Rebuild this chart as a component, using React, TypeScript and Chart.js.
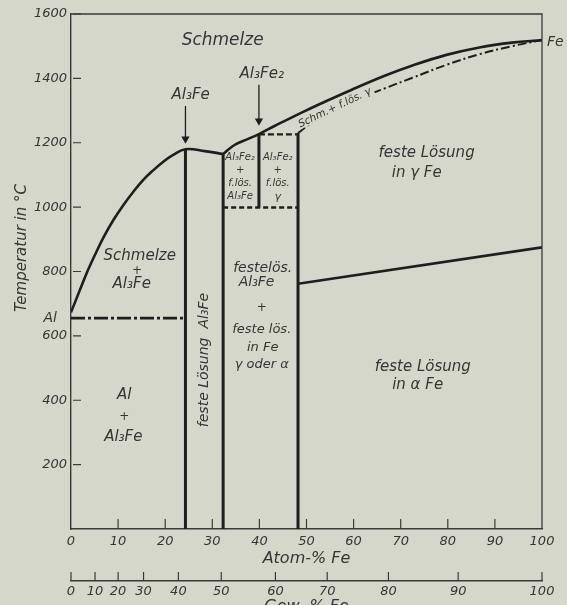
import { useEffect, useRef } from 'react';
import { Chart, registerables } from 'chart.js';

Chart.register(...registerables);

// ---------- data (atom-% Fe, temperature °C) ----------
const liquidusAlAtom = [0, 1.9, 3.3, 5.1, 6.9, 9.0, 11.1, 13.2, 15.3, 17.5, 19.6, 21.7, 24.3, 28.4, 32.3];
const liquidusAlTemp = [673, 743, 794, 852, 906, 960, 1006, 1047, 1084, 1115, 1141, 1162, 1180, 1174, 1165];

const liquidusFeAtom = [32.3, 34.7, 37.6, 39.9, 43.2, 45.4, 48.2, 52.5, 59.5, 66.6, 72.5, 79.7, 86.7, 93.6, 100];
const liquidusFeTemp = [1165, 1193, 1212, 1227, 1252, 1268, 1288, 1318, 1364, 1408, 1440, 1473, 1496, 1511, 1519];

const solidusAtom = [48.2, 51.3, 56.0, 61.7, 66.6, 72.5, 79.7, 86.7, 93.6, 100];
const solidusTemp = [1230, 1264, 1302, 1340, 1369, 1402, 1442, 1475, 1500, 1519];

const eutecticAtom = [0, 24.3];
const eutecticTemp = [655, 655];

const al3FeAtom = [24.3, 24.3];
const al3FeTemp = [0, 1180];

const leftBoundAtom = [32.3, 32.3];
const leftBoundTemp = [0, 1165];

const rightBoundAtom = [48.2, 48.2];
const rightBoundTemp = [0, 1230];

const al3Fe2Atom = [39.9, 39.9];
const al3Fe2Temp = [999, 1227];

const line1000Atom = [32.3, 48.2];
const line1000Temp = [999, 999];

const boxTopAtom = [39.9, 48.2];
const boxTopTemp = [1226, 1226];

const alphaGammaAtom = [48.2, 100];
const alphaGammaTemp = [762, 875];

const arrowAl3FeAtom = [24.3, 24.3];
const arrowAl3FeTemp = [1314, 1212];

const arrowAl3Fe2Atom = [39.9, 39.9];
const arrowAl3Fe2Temp = [1380, 1268];

// ---------- ticks ----------
const tempTicks = [200, 400, 600, 800, 1000, 1200, 1400, 1600];
const atomTicks = [0, 10, 20, 30, 40, 50, 60, 70, 80, 90, 100];
const atomInnerTicks = [10, 20, 30, 40, 50, 60, 70, 80, 90];
const gewLabels = ['0', '10', '20', '30', '40', '50', '60', '70', '80', '90', '100'];
const gewAtAtom = [0, 5.1, 10.0, 15.4, 22.8, 31.9, 43.4, 54.4, 67.4, 82.2, 100];

// ---------- text labels in the diagram ----------
type Note = { a: number; t: number; text: string; size: number; rot?: number; align?: CanvasTextAlign; dx?: number; bg?: boolean };
const notes: Note[] = [
  { a: 32.2, t: 1516, text: 'Schmelze', size: 17 },
  { a: 25.4, t: 1348, text: 'Al₃Fe', size: 15 },
  { a: 40.5, t: 1414, text: 'Al₃Fe₂', size: 15 },
  { a: 56.0, t: 1308, text: 'Schm.+ f.lös. γ', size: 10.5, rot: -25.5, bg: true },
  { a: 35.9, t: 1153, text: 'Al₃Fe₂', size: 10 },
  { a: 35.9, t: 1115, text: '+', size: 10 },
  { a: 35.9, t: 1075, text: 'f.lös.', size: 10 },
  { a: 35.9, t: 1032, text: 'Al₃Fe', size: 10 },
  { a: 43.9, t: 1153, text: 'Al₃Fe₂', size: 10 },
  { a: 43.9, t: 1115, text: '+', size: 10 },
  { a: 43.9, t: 1075, text: 'f.lös.', size: 10 },
  { a: 43.9, t: 1032, text: 'γ', size: 11 },
  { a: 75.5, t: 1168, text: 'feste Lösung', size: 15 },
  { a: 73.4, t: 1106, text: 'in γ Fe', size: 15 },
  { a: 14.6, t: 848, text: 'Schmelze', size: 15 },
  { a: 14.0, t: 801, text: '+', size: 12 },
  { a: 12.9, t: 761, text: 'Al₃Fe', size: 15 },
  { a: 28.4, t: 525, text: 'feste Lösung  Al₃Fe', size: 14, rot: -90 },
  { a: 40.7, t: 811, text: 'festelös.', size: 14 },
  { a: 39.4, t: 767, text: 'Al₃Fe', size: 14 },
  { a: 40.5, t: 687, text: '+', size: 12 },
  { a: 40.5, t: 618, text: 'feste lös.', size: 13 },
  { a: 40.7, t: 562, text: 'in Fe', size: 13 },
  { a: 40.5, t: 510, text: 'γ oder α', size: 13 },
  { a: 11.3, t: 416, text: 'Al', size: 15 },
  { a: 11.3, t: 348, text: '+', size: 12 },
  { a: 11.1, t: 286, text: 'Al₃Fe', size: 15 },
  { a: 74.7, t: 503, text: 'feste Lösung', size: 15 },
  { a: 73.6, t: 447, text: 'in α Fe', size: 15 },
  { a: 100, t: 1512, text: 'Fe', size: 14, align: 'left', dx: 5 },
  { a: 0, t: 655, text: 'Al', size: 14, align: 'right', dx: -14 },
];

const yTitle = 'Temperatur in °C';
const yTitleTemp = 873;

const FAMILY = '"DejaVu Sans", "Liberation Sans", sans-serif';
const INK = '#1e1e1e';
const TEXT = '#353535';
const BG = '#d6d7cb';

const pts = (a: number[], t: number[]) => a.map((x, i) => ({ x, y: t[i] }));

const overlay = {
  id: 'overlay',
  afterDraw(chart: any) {
    const { ctx, chartArea } = chart;
    const xs = chart.scales.x;
    const ys = chart.scales.y;
    const x2 = chart.scales.x2;
    ctx.save();
    // frame top and right
    ctx.strokeStyle = '#3a3a3a';
    ctx.lineWidth = 1.3;
    ctx.beginPath();
    ctx.moveTo(chartArea.left, chartArea.top);
    ctx.lineTo(chartArea.right, chartArea.top);
    ctx.lineTo(chartArea.right, chartArea.bottom);
    ctx.stroke();
    // inner ticks on temperature axis
    ctx.lineWidth = 1.2;
    ctx.beginPath();
    tempTicks.forEach((v) => {
      const y = ys.getPixelForValue(v);
      ctx.moveTo(chartArea.left + 2, y);
      ctx.lineTo(chartArea.left + 10, y);
    });
    // inner ticks on atom axis
    atomInnerTicks.forEach((v) => {
      const x = xs.getPixelForValue(v);
      ctx.moveTo(x, chartArea.bottom);
      ctx.lineTo(x, chartArea.bottom - 10);
    });
    // ticks on weight-% axis
    gewAtAtom.forEach((v) => {
      const x = x2.getPixelForValue(v);
      ctx.moveTo(x, x2.top);
      ctx.lineTo(x, x2.top - 9);
    });
    ctx.stroke();

    // notes
    notes.forEach((n) => {
      const x = xs.getPixelForValue(n.a) + (n.dx || 0);
      const y = ys.getPixelForValue(n.t);
      ctx.save();
      ctx.translate(x, y);
      if (n.rot) ctx.rotate((n.rot * Math.PI) / 180);
      ctx.font = `italic ${n.size}px ${FAMILY}`;
      ctx.textAlign = n.align || 'center';
      ctx.textBaseline = 'middle';
      if (n.bg) {
        const w = ctx.measureText(n.text).width;
        ctx.fillStyle = BG;
        ctx.fillRect(-w / 2 - 3, -n.size * 0.45, w + 6, n.size * 0.9);
      }
      ctx.fillStyle = TEXT;
      ctx.fillText(n.text, 0, 0);
      ctx.restore();
    });

    // y axis title
    ctx.save();
    ctx.fillStyle = TEXT;
    ctx.translate(22, ys.getPixelForValue(yTitleTemp));
    ctx.rotate(-Math.PI / 2);
    ctx.font = `italic 15px ${FAMILY}`;
    ctx.textAlign = 'center';
    ctx.textBaseline = 'middle';
    ctx.fillText(yTitle, 0, 0);
    ctx.restore();
    ctx.restore();
  },
};

export default function App() {
  const ref = useRef<HTMLCanvasElement>(null);

  useEffect(() => {
    const base = { showLine: true, pointRadius: 0, borderColor: INK, backgroundColor: INK, fill: false };
    const chart = new Chart(ref.current as HTMLCanvasElement, {
      type: 'scatter',
      data: {
        datasets: [
          { ...base, label: 'Liquidus Al', data: pts(liquidusAlAtom, liquidusAlTemp), borderWidth: 2.6, tension: 0.4 },
          { ...base, label: 'Liquidus Fe', data: pts(liquidusFeAtom, liquidusFeTemp), borderWidth: 2.6, tension: 0.4 },
          { ...base, label: 'Solidus', data: pts(solidusAtom, solidusTemp), borderWidth: 2, borderDash: [9, 3, 2, 3], tension: 0.4 },
          { ...base, label: 'Eutektikale', data: pts(eutecticAtom, eutecticTemp), borderWidth: 2.6, borderDash: [14, 3, 3, 3] },
          { ...base, label: 'Al3Fe', data: pts(al3FeAtom, al3FeTemp), borderWidth: 3 },
          { ...base, label: 'Grenze 32', data: pts(leftBoundAtom, leftBoundTemp), borderWidth: 3 },
          { ...base, label: 'Grenze 48', data: pts(rightBoundAtom, rightBoundTemp), borderWidth: 3 },
          { ...base, label: 'Al3Fe2', data: pts(al3Fe2Atom, al3Fe2Temp), borderWidth: 3 },
          { ...base, label: '1000', data: pts(line1000Atom, line1000Temp), borderWidth: 2.6, borderDash: [5, 3] },
          { ...base, label: 'Box', data: pts(boxTopAtom, boxTopTemp), borderWidth: 2.2, borderDash: [6, 3] },
          { ...base, label: 'alpha/gamma', data: pts(alphaGammaAtom, alphaGammaTemp), borderWidth: 2.6 },
          { ...base, label: 'Pfeil Al3Fe', data: pts(arrowAl3FeAtom, arrowAl3FeTemp), borderWidth: 1.3, pointRadius: [0, 3.5], pointStyle: 'triangle', rotation: 180 },
          { ...base, label: 'Pfeil Al3Fe2', data: pts(arrowAl3Fe2Atom, arrowAl3Fe2Temp), borderWidth: 1.3, pointRadius: [0, 3.5], pointStyle: 'triangle', rotation: 180 },
        ] as any,
      },
      options: {
        animation: false,
        responsive: false,
        devicePixelRatio: 1,
        layout: { padding: { top: 14, right: 25, bottom: 3, left: 0 } },
        plugins: { legend: { display: false }, tooltip: { enabled: false } },
        scales: {
          x: {
            type: 'linear',
            position: 'bottom',
            min: 0,
            max: 100,
            afterBuildTicks: (s: any) => { s.ticks = atomTicks.map((v) => ({ value: v })); },
            ticks: { autoSkip: false, maxRotation: 0, padding: 5, color: TEXT, font: { family: FAMILY, size: 13, style: 'italic' } },
            grid: { display: false, drawOnChartArea: false, drawTicks: false },
            border: { display: true, color: '#3a3a3a', width: 1.4 },
            title: { display: true, text: 'Atom-% Fe', color: TEXT, padding: { top: 0, bottom: 13 }, font: { family: FAMILY, size: 16, style: 'italic' } },
            afterFit: (s: any) => { s.height = 52; },
          },
          x2: {
            type: 'linear',
            position: 'bottom',
            min: 0,
            max: 100,
            afterBuildTicks: (s: any) => { s.ticks = gewAtAtom.map((v) => ({ value: v })); },
            ticks: {
              autoSkip: false,
              maxRotation: 0,
              padding: 3,
              color: TEXT,
              font: { family: FAMILY, size: 13, style: 'italic' },
              callback: (_v: any, i: number) => gewLabels[i],
            },
            grid: { display: false, drawOnChartArea: false, drawTicks: false },
            border: { display: true, color: '#3a3a3a', width: 1.4 },
            title: { display: true, text: 'Gew.-% Fe', color: TEXT, padding: { top: 0, bottom: 1 }, font: { family: FAMILY, size: 16, style: 'italic' } },
            afterFit: (s: any) => { s.height = 36; },
          },
          y: {
            type: 'linear',
            position: 'left',
            min: 0,
            max: 1600,
            afterBuildTicks: (s: any) => { s.ticks = [0, ...tempTicks].map((v) => ({ value: v })); },
            ticks: {
              padding: 4,
              color: TEXT,
              font: { family: FAMILY, size: 13, style: 'italic' },
              callback: (v: any) => (v === 0 ? '' : String(v)),
            },
            grid: { display: false, drawOnChartArea: false, drawTicks: false },
            border: { display: true, color: '#3a3a3a', width: 1.4 },
            title: { display: false },
            afterFit: (s: any) => { s.width = 71; },
          },
        },
      } as any,
      plugins: [overlay],
    });
    return () => chart.destroy();
  }, []);

  return (
    <div style={{ position: 'absolute', left: 0, top: 0, width: 567, height: 605, overflow: 'hidden', background: BG }}>
      <canvas ref={ref} width={567} height={620} style={{ display: 'block', width: 567, height: 620 }} />
    </div>
  );
}
